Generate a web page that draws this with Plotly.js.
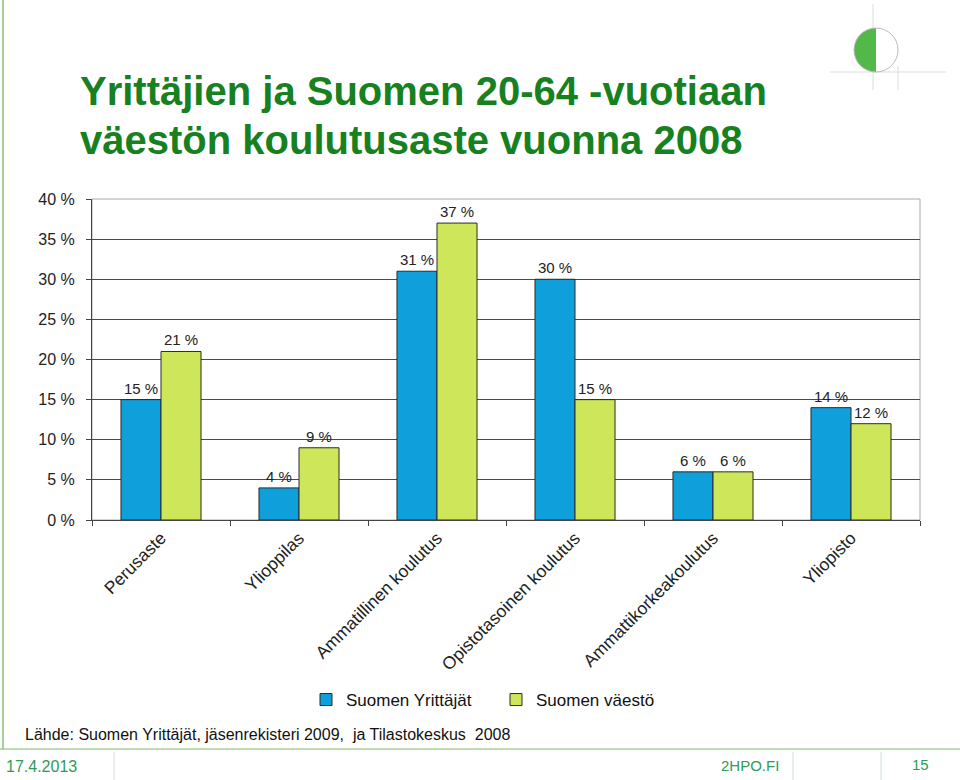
<!DOCTYPE html>
<html>
<head>
<meta charset="utf-8">
<script src="https://cdn.plot.ly/plotly-3.0.1.min.js"></script>
<style>html,body{margin:0;padding:0;background:#fff;}#chart{width:960px;height:780px;}</style>
</head>
<body>
<div id="chart"></div>
<script>
const categories = ["Perusaste", "Ylioppilas", "Ammatillinen koulutus", "Opistotasoinen koulutus", "Ammattikorkeakoulutus", "Yliopisto"];
const yrittajat = [15, 4, 31, 30, 6, 14];
const vaesto = [21, 9, 37, 15, 6, 12];
const seriesNames = ["Suomen Yrittäjät", "Suomen väestö"];
const yTicks = [0, 5, 10, 15, 20, 25, 30, 35, 40];
const titleLines = ["Yrittäjien ja Suomen 20-64 -vuotiaan", "väestön koulutusaste vuonna 2008"];
const sourceText = "Lähde: Suomen Yrittäjät, jäsenrekisteri 2009,  ja Tilastokeskus  2008";
const footerDate = "17.4.2013";
const footerSite = "2HPO.FI";
const footerPage = "15";

const W = 960, H = 780, L = 92, R = 40, T = 199, B = 260;
const pw = W - L - R, ph = H - T - B;
const px = x => (x - L) / pw;
const py = y => (H - B - y) / ph;

const FONT = "Liberation Sans, Arial, sans-serif";

const traces = [
  {type: "bar", name: seriesNames[0], x: categories, y: yrittajat,
   marker: {color: "#0f9fdb", line: {color: "#2a2a2a", width: 1}},
   text: yrittajat.map(v => v + " %"), textposition: "outside", cliponaxis: false,
   textfont: {family: FONT, size: 15, color: "#222"}, hoverinfo: "none"},
  {type: "bar", name: seriesNames[1], x: categories, y: vaesto,
   marker: {color: "#cde65a", line: {color: "#2a2a2a", width: 1}},
   text: vaesto.map(v => v + " %"), textposition: "outside", cliponaxis: false,
   textfont: {family: FONT, size: 15, color: "#222"}, hoverinfo: "none"}
];

// logo half circle polygon (decoration)
const cx = 876, cy = 50, r = 22;
let half = "";
for (let i = 0; i <= 24; i++) {
  const a = Math.PI / 2 + Math.PI * i / 24;
  const xx = cx + r * Math.cos(a), yy = cy - r * Math.sin(a);
  half += (i === 0 ? "M " : " L ") + px(xx).toFixed(5) + "," + py(yy).toFixed(5);
}
half += " Z";

const frameGreen = "#a9cf98";
const sepColor = "#cfe0cf";
const shapes = [
  {type: "rect", xref: "paper", yref: "paper", x0: 0, x1: 1, y0: 0, y1: 1, line: {color: "#a8a8a8", width: 1}, layer: "below"},
  {type: "line", xref: "paper", yref: "paper", x0: px(3), x1: px(3), y0: py(0), y1: py(750), line: {color: frameGreen, width: 2}},
  {type: "line", xref: "paper", yref: "paper", x0: px(0), x1: px(960), y0: py(749), y1: py(749), line: {color: frameGreen, width: 1.5}},
  {type: "line", xref: "paper", yref: "paper", x0: px(114), x1: px(114), y0: py(752), y1: py(780), line: {color: sepColor, width: 1}},
  {type: "line", xref: "paper", yref: "paper", x0: px(793), x1: px(793), y0: py(752), y1: py(780), line: {color: sepColor, width: 1}},
  {type: "line", xref: "paper", yref: "paper", x0: px(881), x1: px(881), y0: py(752), y1: py(780), line: {color: sepColor, width: 1}},
  // logo
  {type: "line", xref: "paper", yref: "paper", x0: px(873), x1: px(873), y0: py(4), y1: py(90), line: {color: "#dddddd", width: 1}},
  {type: "line", xref: "paper", yref: "paper", x0: px(830), x1: px(946), y0: py(72), y1: py(72), line: {color: "#dddddd", width: 1}},
  {type: "line", xref: "paper", yref: "paper", x0: px(898), x1: px(898), y0: py(66), y1: py(90), line: {color: "#dddddd", width: 1}},
  {type: "path", xref: "paper", yref: "paper", path: half, fillcolor: "#52b84a", line: {width: 0}},
  {type: "circle", xref: "paper", yref: "paper", x0: px(cx - r), x1: px(cx + r), y0: py(cy + r), y1: py(cy - r), line: {color: "#bbbbbb", width: 1}}
];

const annotations = [
  {text: "<b>" + titleLines[0] + "</b>", xref: "paper", yref: "paper", x: px(78), y: py(91), xanchor: "left", yanchor: "middle", showarrow: false, font: {family: FONT, size: 40, color: "#17801f"}},
  {text: "<b>" + titleLines[1] + "</b>", xref: "paper", yref: "paper", x: px(78), y: py(140), xanchor: "left", yanchor: "middle", showarrow: false, font: {family: FONT, size: 40, color: "#17801f"}},
  {text: sourceText, xref: "paper", yref: "paper", x: px(23), y: py(734), xanchor: "left", yanchor: "middle", showarrow: false, font: {family: FONT, size: 16, color: "#111"}},
  {text: footerDate, xref: "paper", yref: "paper", x: px(4), y: py(766), xanchor: "left", yanchor: "middle", showarrow: false, font: {family: FONT, size: 16, color: "#2e9b55"}},
  {text: footerSite, xref: "paper", yref: "paper", x: px(781), y: py(765), xanchor: "right", yanchor: "middle", showarrow: false, font: {family: FONT, size: 15, color: "#2e9b55"}},
  {text: footerPage, xref: "paper", yref: "paper", x: px(920), y: py(764), xanchor: "center", yanchor: "middle", showarrow: false, font: {family: FONT, size: 15, color: "#2e9b55"}}
];

const layout = {
  width: W, height: H,
  margin: {l: L, r: R, t: T, b: B, pad: 0},
  paper_bgcolor: "#ffffff", plot_bgcolor: "#ffffff",
  font: {family: FONT, color: "#222"},
  barmode: "group", bargap: 0.42, bargroupgap: 0,
  showlegend: true,
  legend: {orientation: "h", x: px(306), y: py(700), xanchor: "left", yanchor: "middle",
           font: {family: FONT, size: 17, color: "#111"}, entrywidth: 145, itemwidth: 30, traceorder: "normal"},
  xaxis: {type: "category", tickangle: -45, tickfont: {family: FONT, size: 17.5, color: "#222"},
          showline: true, linecolor: "#444", linewidth: 1, ticks: "outside", ticklen: 5, tickcolor: "#444",
          tickson: "boundaries", showgrid: false, zeroline: false, fixedrange: true},
  yaxis: {range: [0, 40], tickvals: yTicks, ticktext: yTicks.map(v => v + " %"),
          tickfont: {family: FONT, size: 16, color: "#222"}, showline: true, linecolor: "#444", linewidth: 1,
          ticks: "outside", ticklen: 5, tickcolor: "#444", ticklabelstandoff: 8, showgrid: true, gridcolor: "#4a4a4a", gridwidth: 1,
          zeroline: false, fixedrange: true},
  shapes: shapes,
  annotations: annotations
};

Plotly.newPlot("chart", traces, layout, {displayModeBar: false, staticPlot: true});
</script>
</body>
</html>
